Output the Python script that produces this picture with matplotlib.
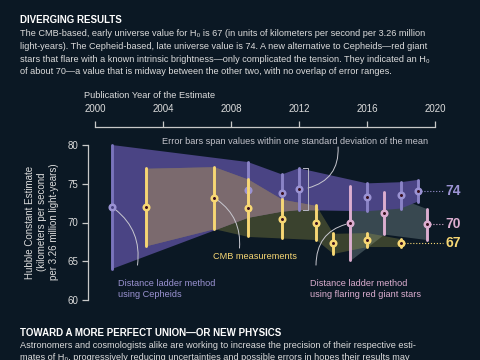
import numpy as np
import matplotlib
matplotlib.use("Agg")
import matplotlib.pyplot as plt
from matplotlib.patches import Polygon

plt.rcParams['font.family'] = ['Liberation Sans', 'DejaVu Sans']

# Hubble constant estimates (km/s per 3.26 million light-years)
cep_year = [2001, 2009, 2011, 2012, 2016, 2018, 2019]
cep_val = [72.0, 74.2, 73.8, 74.3, 73.25, 73.5, 74.1]
cep_err = [8.0, 3.6, 2.4, 2.7, 1.8, 1.7, 1.4]

cmb_year = [2003, 2007, 2009, 2011, 2013, 2014, 2016, 2018]
cmb_val = [72.0, 73.2, 71.9, 70.5, 70.0, 67.3, 67.8, 67.4]
cmb_err = [5.0, 4.0, 3.7, 2.5, 2.2, 1.3, 0.9, 0.5]

trgb_year = [2015, 2017, 2019.5]
trgb_val = [69.9, 71.2, 69.8]
trgb_err = [4.8, 2.7, 2.0]

year_ticks = [2000, 2004, 2008, 2012, 2016, 2020]
h_ticks = [60, 65, 70, 75, 80]

BG = '#0b1824'
PURPLE = '#9b93d3'
YELLOW = '#f7d774'
PINK = '#dcaed0'
TXT = '#dcdcdc'
W, H = 480, 360

fig = plt.figure(figsize=(4.8, 3.6), dpi=100, facecolor=BG)
ax = fig.add_axes([88.3 / W, 1 - 300 / H, (470 - 88.3) / W, (300 - 127) / H])
ax.set_facecolor(BG)
ax.set_xlim(2000 - 6.7 / 17, 2000 + 375 / 17)
ax.set_ylim(60, 80 + 18 / 7.75)


def band(years, vals, errs):
    y = np.array(years, float)
    v = np.array(vals)
    e = np.array(errs)
    return y, v - e, v + e


# bands
ty, tlo, thi = band(trgb_year, trgb_val, trgb_err)
ax.fill_between(ty, tlo, thi, color='#384850', lw=0, zorder=1)

cy, clo, chi = band(cep_year, cep_val, cep_err)
verts = np.column_stack([np.r_[cy, cy[::-1]], np.r_[chi, clo[::-1]]])
purple_poly = Polygon(verts, closed=True, facecolor='#4a4484', edgecolor='none', zorder=2)
ax.add_patch(purple_poly)

my, mlo, mhi = band(cmb_year, cmb_val, cmb_err)
ax.fill_between(my, mlo, mhi, color=(170 / 255, 165 / 255, 70 / 255), alpha=0.3, lw=0, zorder=3)
tan = ax.fill_between(my, mlo, mhi, color='#7b6a6e', lw=0, zorder=3)
tan.set_clip_path(purple_poly)

# error bars + markers
def series(years, vals, errs, col, barcol, face, z):
    for x, v, e in zip(years, vals, errs):
        ax.plot([x, x], [v - e, v + e], color=barcol, lw=2.1, solid_capstyle='round', zorder=z)
    ax.plot(years, vals, 'o', ms=4.0, mfc=face, mec=col, mew=1.8, ls='none', zorder=z + 1)

series(cep_year[1:], cep_val[1:], cep_err[1:], PURPLE, '#8a83c6', '#3a0f1e', 5)
series(cep_year[:1], cep_val[:1], cep_err[:1], PURPLE, '#7a74bc', '#4a4484', 5)
series(cmb_year, cmb_val, cmb_err, YELLOW, YELLOW, '#3a0f1e', 7)
series(trgb_year, trgb_val, trgb_err, PINK, PINK, '#3a0f1e', 9)

# leaders and end labels
for x, v, col, lab in [(cep_year[-1], cep_val[-1], PURPLE, '74'),
                       (trgb_year[-1], trgb_val[-1], PINK, '70'),
                       (cmb_year[-1], cmb_val[-1], YELLOW, '67')]:
    ax.plot([x, 2020.45], [v, v], color=col, lw=0.8, ls=':', zorder=4)
    ax.text(2020.6, v, lab, color=col, fontsize=10, fontweight='bold', va='center', ha='left')

# annotations
line = dict(arrowstyle='-', color='#c8c8d0', lw=0.7, shrinkA=0, shrinkB=3)
ax.annotate('', xy=(2001, 72), xytext=(2002.5, 64.5),
            arrowprops=dict(line, connectionstyle='arc3,rad=0.3'))
ax.text(2001.35, 61.4, 'Distance ladder method\nusing Cepheids', color=PURPLE,
        fontsize=6.6, va='center', ha='left', linespacing=1.25)

ax.annotate('', xy=(2007, 73.2), xytext=(2008.5, 66.7),
            arrowprops=dict(line, connectionstyle='arc3,rad=0.3'))
ax.text(2006.95, 65.55, 'CMB measurements', color=YELLOW, fontsize=6.6, va='center', ha='left')

ax.annotate('', xy=(2015, 69.9), xytext=(2013.0, 64.5),
            arrowprops=dict(line, connectionstyle='arc3,rad=-0.4'))
ax.text(2012.65, 61.4, 'Distance ladder method\nusing flaring red giant stars', color=PINK,
        fontsize=6.6, va='center', ha='left', linespacing=1.25)

# bracket on the 2012 error bar
bx0, bx1 = 2012.25, 2012.53
ax.plot([bx0, bx1, bx1, bx0], [77.0, 77.0, 71.6, 71.6], color='#b8b8c4', lw=0.7, zorder=4)
ax.annotate('', xy=(bx1, 74.45), xytext=(2014.3, 79.75),
            arrowprops=dict(line, shrinkB=0, connectionstyle='arc3,rad=-0.4'))
ax.text(2011.76, 80.5, 'Error bars span values within one standard deviation of the mean',
        color='#c4c4cc', fontsize=6.6, ha='center', va='center')

# axes styling
for s in ['bottom', 'right']:
    ax.spines[s].set_visible(False)
ax.spines['top'].set_bounds(2000, 2020)
ax.spines['left'].set_bounds(60, 80)
for s in ['top', 'left']:
    ax.spines[s].set_color('#c8c8c8')
    ax.spines[s].set_linewidth(0.9)
ax.xaxis.tick_top()
ax.set_xticks(year_ticks)
ax.set_yticks(h_ticks)
ax.tick_params(axis='x', colors='#c8c8c8', labelcolor=TXT, length=4, width=0.9, pad=5, labelsize=7)
ax.tick_params(axis='y', colors='#c8c8c8', labelcolor=TXT, length=4, width=0.9, pad=3, labelsize=7)

fig.text(42 / W, 1 - 222 / H, 'Hubble Constant Estimate\n(kilometers per second\nper 3.26 million light-years)',
         rotation=90, ha='center', va='center', multialignment='center', color=TXT, fontsize=7,
         linespacing=1.3)
fig.text(84 / W, 1 - 96 / H, 'Publication Year of the Estimate', color=TXT, fontsize=6.7, va='center')

# header and footer text
fig.text(20 / W, 1 - 20 / H, 'DIVERGING RESULTS', color='white', fontsize=7, fontweight='bold', va='center')
body = ['The CMB-based, early universe value for H\u2080 is 67 (in units of kilometers per second per 3.26 million',
        'light-years). The Cepheid-based, late universe value is 74. A new alternative to Cepheids\u2014red giant',
        'stars that flare with a known intrinsic brightness\u2014only complicated the tension. They indicated an H\u2080',
        'of about 70\u2014a value that is midway between the other two, with no overlap of error ranges.']
for i, t in enumerate(body):
    fig.text(20 / W, 1 - (33.8 + 12.6 * i) / H, t, color=TXT, fontsize=6.6, va='center')

fig.text(20 / W, 1 - 332.7 / H, 'TOWARD A MORE PERFECT UNION\u2014OR NEW PHYSICS', color='white',
         fontsize=7, fontweight='bold', va='center')
foot = ['Astronomers and cosmologists alike are working to increase the precision of their respective esti-',
        'mates of H\u2080, progressively reducing uncertainties and possible errors in hopes their results may']
for i, t in enumerate(foot):
    fig.text(20 / W, 1 - (345.2 + 12.6 * i) / H, t, color=TXT, fontsize=6.6, va='center')

fig.savefig('out.png', dpi=100, facecolor=BG)
